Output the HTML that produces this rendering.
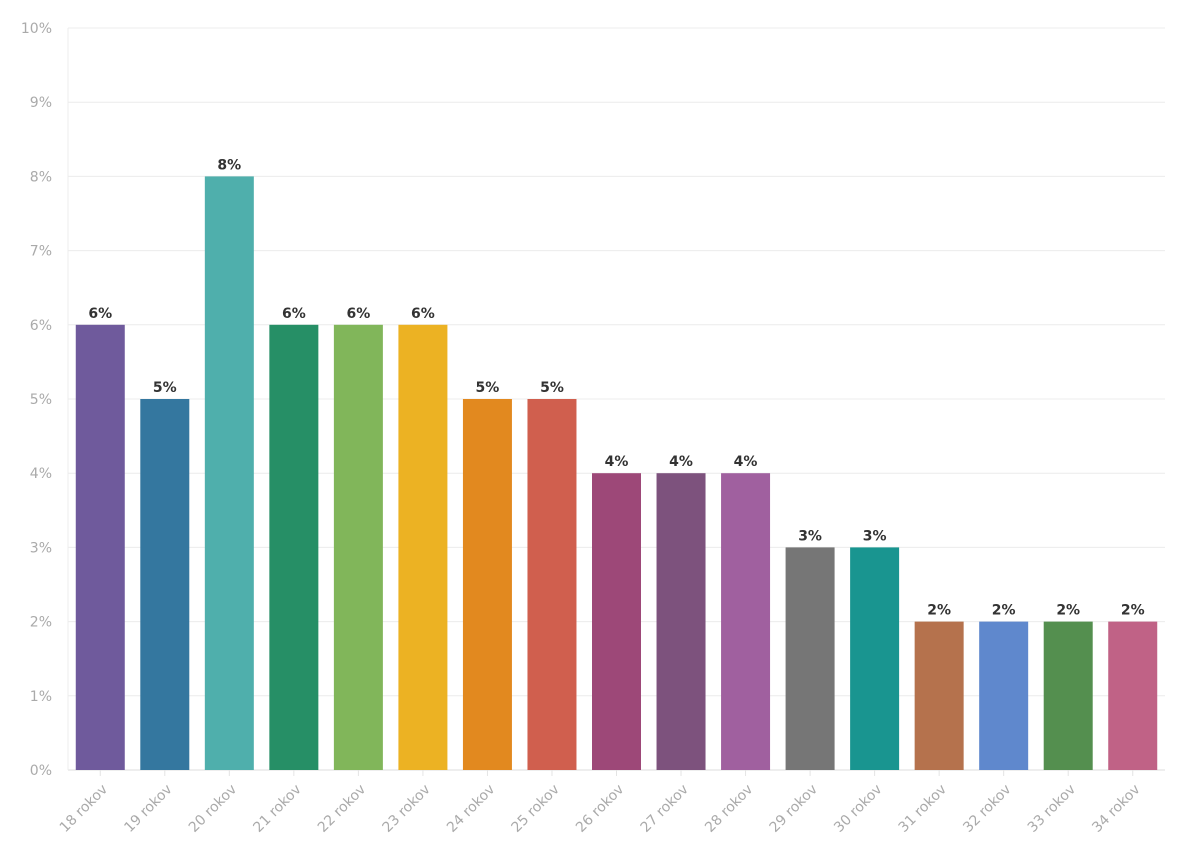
<!DOCTYPE html>
<html><head><meta charset="utf-8"><style>
body{margin:0;background:#fff;}
svg{display:block;font-family:"DejaVu Sans","Liberation Sans",sans-serif;}
</style></head><body>
<svg id="chart" width="1200" height="863"></svg>
<script>
const categories=["18 rokov","19 rokov","20 rokov","21 rokov","22 rokov","23 rokov","24 rokov","25 rokov","26 rokov","27 rokov","28 rokov","29 rokov","30 rokov","31 rokov","32 rokov","33 rokov","34 rokov"];
const values=[6,5,8,6,6,6,5,5,4,4,4,3,3,2,2,2,2];
const valueLabels=["6%","5%","8%","6%","6%","6%","5%","5%","4%","4%","4%","3%","3%","2%","2%","2%","2%"];
const tickValues=[0,1,2,3,4,5,6,7,8,9,10];
const tickLabels=["0%","1%","2%","3%","4%","5%","6%","7%","8%","9%","10%"];
const colors=["#6f5a9c","#34779f","#4fafac","#268f66","#81b65a","#ecb223","#e2891f","#d05f4e","#9d4878","#7d527d","#a0609f","#767676","#199590","#b5724d","#5f88cd","#548f4f","#c06286"];
const svg=document.getElementById('chart');
const NS='http://www.w3.org/2000/svg';
const x0=68,x1=1165,yTop=28,yBot=770,yMax=10;
const band=(x1-x0)/categories.length,bw=49;
function y(v){return yBot-(v/yMax)*(yBot-yTop);}
function xc(i){return x0+band*i+band/2;}
function mk(t,a){const e=document.createElementNS(NS,t);for(const k in a)e.setAttribute(k,a[k]);svg.appendChild(e);return e;}
tickValues.forEach((v,i)=>{
 const g=mk('line',{x1:x0,x2:x1,y1:y(v),y2:y(v),stroke:v===0?'#dcdcdc':'#ececec','stroke-width':1});
 
 
 const t=mk('text',{x:52,y:y(v)+5,'text-anchor':'end','font-size':14,fill:'#aaa'});
 t.textContent=tickLabels[i];
 
 
});
const ax=mk('line',{x1:x0,x2:x0,y1:yTop,y2:yBot,stroke:'#ececec'});


categories.forEach((c,i)=>{
 const cx=xc(i);
 const r=mk('rect',{x:cx-bw/2,y:y(values[i]),width:bw,height:yBot-y(values[i]),fill:colors[i]});
 
 
 const vl=mk('text',{x:cx,y:y(values[i])-7,'text-anchor':'middle','font-size':14,'font-weight':'bold',fill:'#333'});
 vl.textContent=valueLabels[i];
 
 
 const tk=mk('line',{x1:cx,x2:cx,y1:yBot,y2:yBot+6,stroke:'#e4e4e4'});
 
 
 const xl=mk('text',{x:cx+8,y:yBot+20,'text-anchor':'end','font-size':14,fill:'#aaa',transform:`rotate(-45 ${cx+8} ${yBot+20})`});
 xl.textContent=c;
 
 
});
</script>
</body></html>
